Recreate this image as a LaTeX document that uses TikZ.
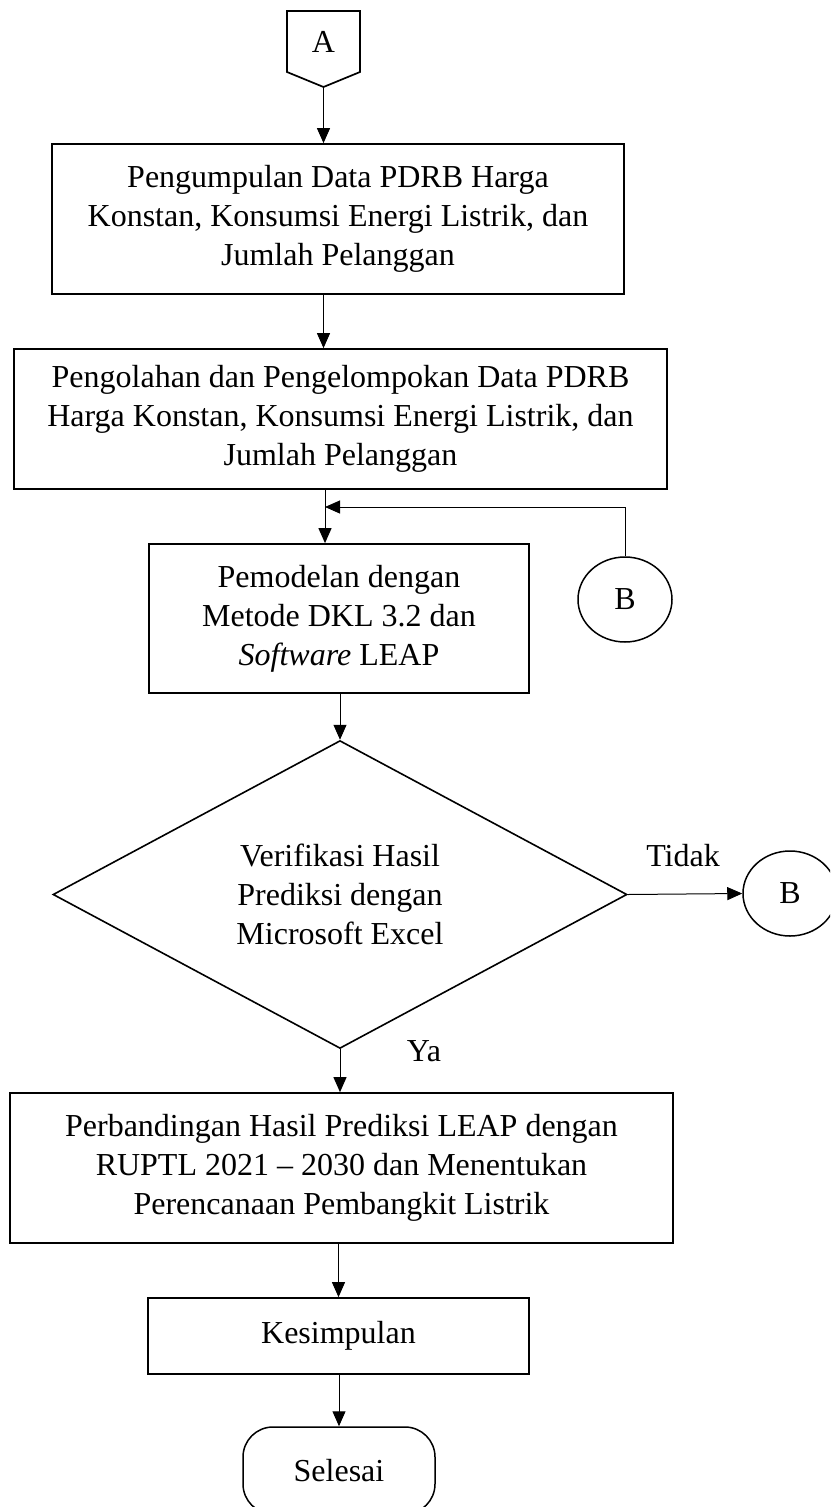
\documentclass[tikz,border=0pt]{standalone}
\usepackage{fontspec}
\setmainfont{Liberation Serif}
\usepackage{tikz}
\usetikzlibrary{arrows.meta,positioning,shapes.geometric,calc}
\tikzset{
  teks/.style={font=\fontsize{32}{39}\selectfont, align=center, inner sep=0pt},
  prosesbox/.style={teks, draw, line width=1.7pt, rectangle},
  keputusan/.style={teks, draw, line width=1.6pt, diamond},
  konektor/.style={teks, draw, line width=1.5pt, ellipse, minimum width=94, minimum height=85},
  terminal/.style={teks, draw, line width=1.5pt, rectangle, rounded corners=30pt},
  garis/.style={line width=1pt},
  panah/.style={-{Triangle[length=15pt, width=13pt]}, line width=1pt}
}

\begin{document}
\begin{tikzpicture}[x=1pt,y=-1pt]
  \useasboundingbox (0,0) rectangle (830,1507);
  \clip (0,0) rectangle (830,1507);
  % konektor halaman A
  \draw[line width=1.7pt, line join=miter] (287,11) -- (360,11) -- (360,72) -- (323.5,87) -- (287,72) -- cycle;
  \node[teks] (A) at (323.5,42) {A};
  \coordinate (Aujung) at (323.5,87);

  \node[prosesbox, minimum width=572, minimum height=150] (kumpul) at (338,219)
    {Pengumpulan Data PDRB Harga\\Konstan, Konsumsi Energi Listrik, dan\\Jumlah Pelanggan};
  \node[prosesbox, minimum width=653, minimum height=140] (olah) at (340.5,419)
    {Pengolahan dan Pengelompokan Data PDRB\\Harga Konstan, Konsumsi Energi Listrik, dan\\Jumlah Pelanggan};
  \node[prosesbox, minimum width=380, minimum height=149] (model) at (339,618.5)
    {Pemodelan dengan\\Metode DKL 3.2 dan\\\textit{Software} LEAP};
  \node[konektor] (B1) at (625,599.5) {B};
  \node[keputusan, minimum width=574, minimum height=289] (cek) at (340,894.5)
    {Verifikasi Hasil\\Prediksi dengan\\Microsoft Excel};
  \node[konektor] (B2) at (790,893.5) {B};
  \node[teks] (tidak) at (683,856) {Tidak};
  \node[teks] (ya) at (424,1051) {Ya};
  \node[prosesbox, minimum width=663, minimum height=150] (banding) at (341.5,1168)
    {Perbandingan Hasil Prediksi LEAP dengan\\RUPTL 2021 -- 2030 dan Menentukan\\Perencanaan Pembangkit Listrik};
  \node[prosesbox, minimum width=381, minimum height=76] (simpul) at (338.5,1336) {Kesimpulan};
  \node[terminal, minimum width=192, minimum height=87] (selesai) at (339,1470.5) {Selesai};

  \coordinate (gabung) at (325,507);

  \draw[panah] (Aujung) -- (Aujung |- kumpul.north);
  \draw[panah] (Aujung |- kumpul.south) -- (Aujung |- olah.north);
  \draw[garis] (gabung |- olah.south) -- (gabung);
  \draw[panah] (gabung) -- (gabung |- model.north);
  \draw[panah] (B1.north) |- (gabung);
  \foreach \a/\b in {model/cek, cek/banding} {
    \draw[panah] (cek.north |- \a.south) -- (cek.north |- \b.north);
  }
  \draw[panah] (simpul.north |- banding.south) -- (simpul.north);
  \draw[panah] (selesai.north |- simpul.south) -- (selesai.north);
  \draw[panah] (cek.east) -- (B2.west);
\end{tikzpicture}
\end{document}
